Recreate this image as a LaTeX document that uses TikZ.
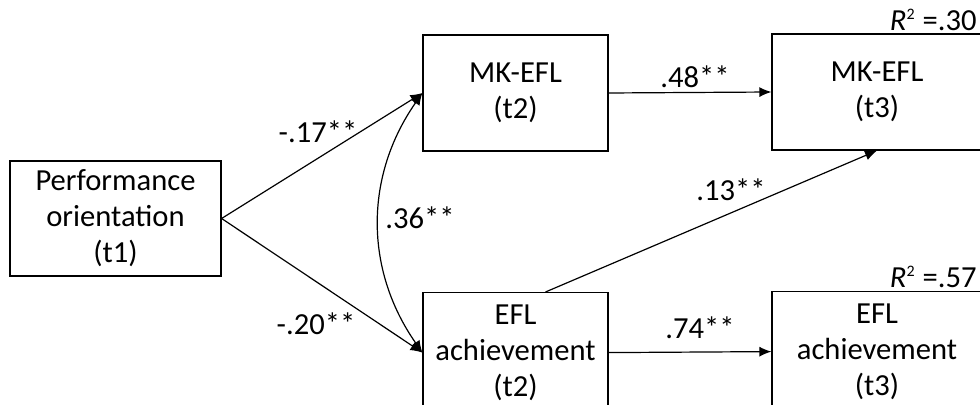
\documentclass[tikz,border=0pt]{standalone}
\usepackage{fontspec}
\setmainfont{Carlito}
\usetikzlibrary{arrows.meta}
\begin{document}
\begin{tikzpicture}
    [
    x=0.5pt,y=-0.5pt,
    every node/.style={font=\fontsize{15.3}{18}\selectfont},
    box/.style={rectangle,draw,line width=0.6pt,align=center,inner sep=0pt},
    path/.style={line width=0.6pt,-{Latex[length=6pt,width=5pt]}},
    coef/.style={inner sep=1pt}
    ]
    \useasboundingbox (0,0) rectangle (980,405);
    \clip (0,0) rectangle (980,405);
    \node (perf) at (115.5,218.5) [box,minimum width=105.5pt,minimum height=57.5pt] {Performance\\orientation\\(t1)};
    \node (mk2) at (515.5,93) [box,minimum width=92.5pt,minimum height=58pt] {MK-EFL\\(t2)};
    \node (mk3) at (877,92) [box,minimum width=105pt,minimum height=58pt] {MK-EFL\\(t3)};
    \node (efl2) at (515.5,292) [box,anchor=north,minimum width=92.5pt,minimum height=60pt] {EFL\\achievement\\(t2)};
    \node (efl3) at (877,291) [box,anchor=north,minimum width=105pt,minimum height=60pt] {EFL\\achievement\\(t3)};
    \draw [path] (perf.east) to (mk2.west);
    \draw [path] (perf.east) to (efl2.west);
    \draw [path,{Latex[length=6pt,width=5pt]}-{Latex[length=6pt,width=5pt]}] (mk2.west) to [bend right=35] (efl2.west);
    \draw [path] (mk2.east) to (mk3.west);
    \draw [path] ([xshift=15pt]efl2.north) to (mk3.south);
    \draw [path] (efl2.east) to (efl3.west);

    \node (c17) at (318,132) [coef] {-.17**};
    \node (c20) at (316,324) [coef] {-.20**};
    \node (c36) at (420,218) [coef] {.36**};
    \node (c48) at (695,77) [coef] {.48**};
    \node (c13) at (731,190) [coef] {.13**};
    \node (c74) at (700,328) [coef] {.74**};
    \node (r30) at (979,33) [coef,anchor=south east] {\textit{R}\textsuperscript{\footnotesize 2} =.30};
    \node (r57) at (979,290) [coef,anchor=south east] {\textit{R}\textsuperscript{\footnotesize 2} =.57};
  \end{tikzpicture}
\end{document}
